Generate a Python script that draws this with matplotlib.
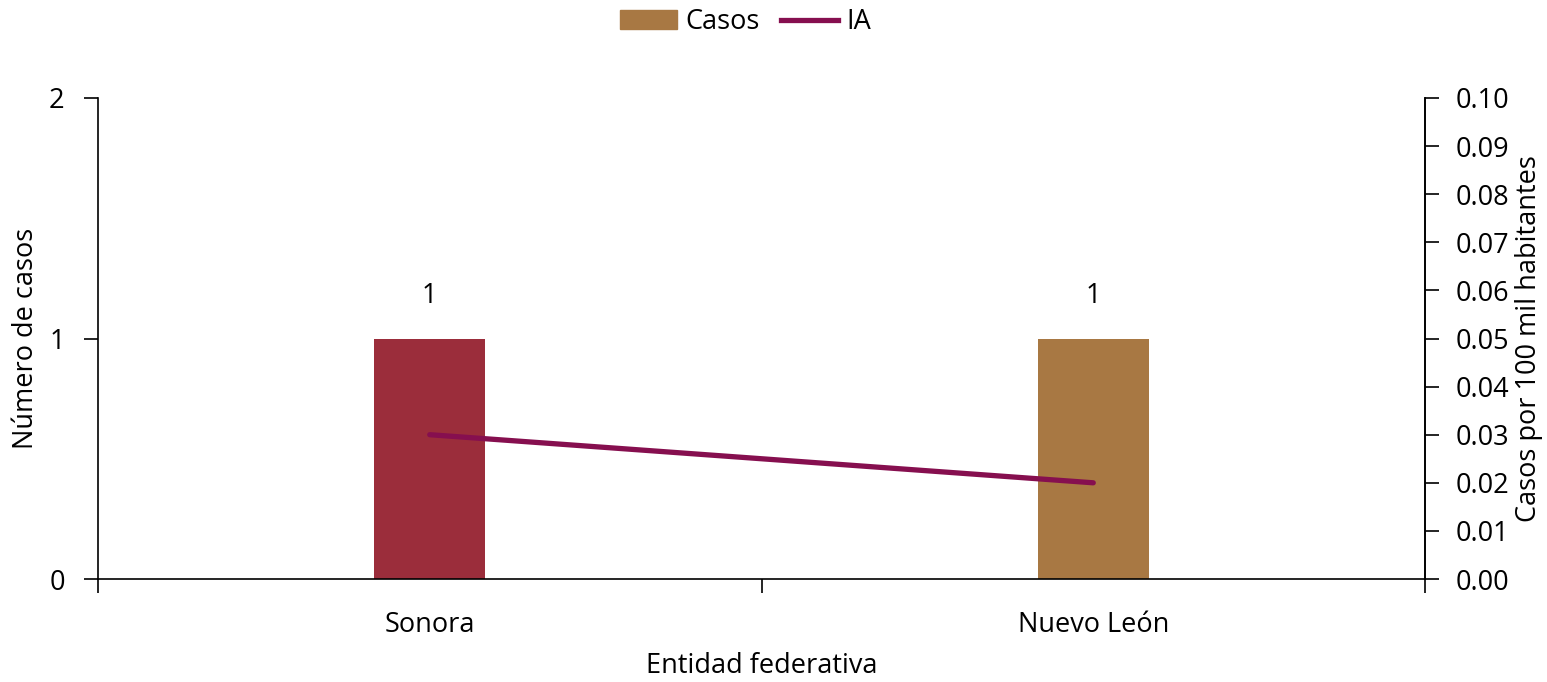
import matplotlib.pyplot as plt
from matplotlib.patches import Patch
from matplotlib.lines import Line2D

entidades = ['Sonora', 'Nuevo León']
casos = [1, 1]
ia = [0.03, 0.02]
bar_colors = ['#9B2D3B', '#A87843']
line_color = '#860F4F'

plt.rcParams['font.family'] = ['Open Sans', 'DejaVu Sans']
plt.rcParams['font.size'] = 19.5

fig = plt.figure(figsize=(15.47, 6.82), dpi=100)
ax = fig.add_axes([98/1547, 1 - 579/682, (1425 - 98)/1547, (579 - 98)/682])
ax2 = ax.twinx()

x = list(range(len(entidades)))
ax.bar(x, casos, width=0.167, color=bar_colors, zorder=2)
for xi, v in zip(x, casos):
    ax.text(xi, v + 0.12, str(v), ha='center', va='bottom')

ax2.plot(x, ia, color=line_color, lw=3.8, solid_capstyle='round')

ax.set_xlim(-0.5, 1.5)
ax.set_ylim(0, 2)
ax.set_yticks([0, 1, 2])
ax2.set_ylim(0, 0.10)
ax2.set_yticks([i / 100 for i in range(11)])
ax2.set_yticklabels([f'{i / 100:.2f}' for i in range(11)])

ax.set_xticks(x)
ax.set_xticklabels(entidades)
ax.set_xticks([-0.5, 0.5, 1.5], minor=True)
ax.tick_params(axis='x', which='major', length=0, pad=23)
ax.tick_params(axis='x', which='minor', length=10, width=1.2, direction='out')
ax.tick_params(axis='y', length=10, width=1.2, pad=14)
ax2.tick_params(axis='y', length=10, width=1.2, pad=12)

for a in (ax, ax2):
    a.spines['top'].set_visible(False)
    for s in a.spines.values():
        s.set_linewidth(1.2)
ax2.spines['left'].set_visible(False)
ax2.spines['bottom'].set_visible(False)

ax.set_xlabel('Entidad federativa')
ax.xaxis.set_label_coords(0.5, -0.152)
ax.set_ylabel('Número de casos')
ax.yaxis.set_label_coords(-0.044, 0.5)
ax2.set_ylabel('Casos por 100 mil habitantes')
ax2.yaxis.set_label_coords(1.068, 0.5)

handles = [Patch(color='#A87843', label='Casos'),
           Line2D([], [], color=line_color, lw=3.8, label='IA')]
fig.legend(handles=handles, loc='upper center', bbox_to_anchor=(0.482, 1.024),
           ncol=2, frameon=False, handlelength=2.1, columnspacing=0.8,
           handletextpad=0.3)

fig.savefig('out.png', dpi=100)
